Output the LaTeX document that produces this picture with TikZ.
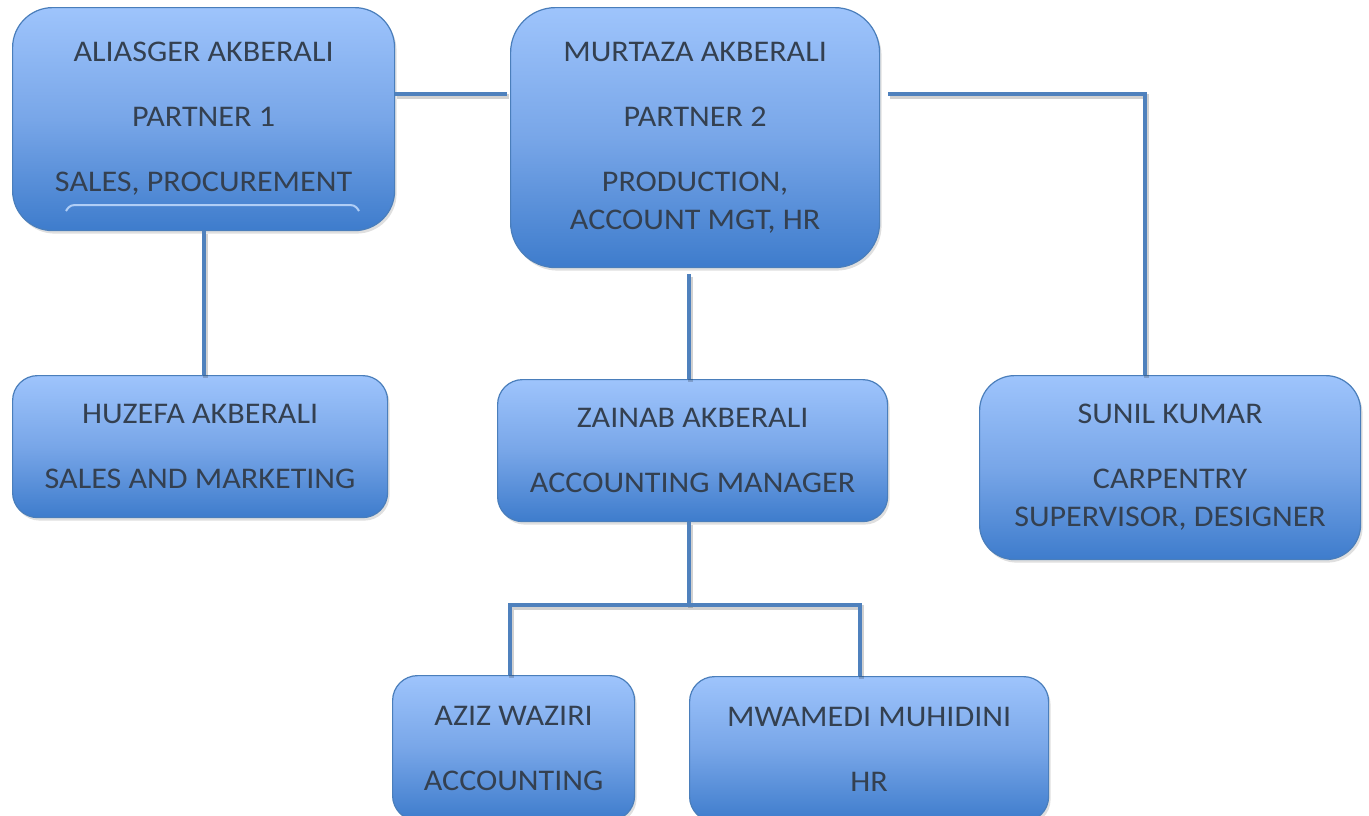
\documentclass[tikz,border=0pt]{standalone}
\usepackage{fontspec}
\setmainfont{Carlito}[FakeStretch=1.07]
\usetikzlibrary{shadows}
\definecolor{topc}{RGB}{158,196,252}
\definecolor{midc}{RGB}{120,166,232}
\definecolor{botc}{RGB}{62,124,204}
\definecolor{edgec}{RGB}{74,126,187}
\definecolor{linec}{RGB}{79,129,189}
\definecolor{txtc}{RGB}{52,64,80}
\definecolor{glowc}{RGB}{176,206,246}
\tikzset{
  orgbox/.style={draw=edgec, line width=1.2pt, top color=topc, bottom color=botc, middle color=midc,
    anchor=north west, inner sep=0pt, align=center, text=txtc,
    font=\fontsize{30}{38}\selectfont,
    drop shadow={opacity=0.25, shadow xshift=2pt, shadow yshift=-3pt}},
  conn/.style={line width=4.5pt, draw=linec,
    preaction={draw=black, opacity=0.18, line width=4.5pt, transform canvas={xshift=1.5pt, yshift=-2.5pt}}}
}
\begin{document}
\begin{tikzpicture}[x=1pt, y=-1pt]
\useasboundingbox (0,0) rectangle (1369,815);
\coordinate (yTop) at (0,94);
\coordinate (xM) at (689,0);
\coordinate (xS) at (1145,0);
\coordinate (xA) at (204,0);
\coordinate (yBar) at (0,605);
\coordinate (xL) at (510,0);
\coordinate (xR) at (860,0);

\node[orgbox, minimum width=382pt, minimum height=223pt, rounded corners=40pt] (A) at (12,7)
  {ALIASGER AKBERALI\\[27pt] PARTNER 1\\[27pt] SALES, PROCUREMENT};
\node[orgbox, minimum width=369pt, minimum height=260pt, rounded corners=45pt] (M) at (510,7)
  {MURTAZA AKBERALI\\[27pt] PARTNER 2\\[27pt] PRODUCTION,\\ ACCOUNT MGT, HR};
\node[orgbox, minimum width=375pt, minimum height=142pt, rounded corners=25pt] (H) at (12,375)
  {HUZEFA AKBERALI\\[27pt] SALES AND MARKETING};
\node[orgbox, minimum width=390pt, minimum height=142pt, rounded corners=25pt] (Z) at (497,379)
  {ZAINAB AKBERALI\\[27pt] ACCOUNTING MANAGER};
\node[orgbox, minimum width=381pt, minimum height=184pt, rounded corners=35pt] (S) at (979,375)
  {SUNIL KUMAR\\[27pt] CARPENTRY\\ SUPERVISOR, DESIGNER};
\node[orgbox, minimum width=242pt, minimum height=145pt, rounded corners=25pt] (W) at (392,675)
  {AZIZ WAZIRI\\[27pt] ACCOUNTING};
\node[orgbox, minimum width=359pt, minimum height=145pt, rounded corners=25pt] (D) at (689,676)
  {MWAMEDI MUHIDINI\\[27pt] HR};

% light band inside box A
\draw[glowc, line width=2pt] (66,211) .. controls (70,205) .. (82,205) -- (343,205) .. controls (355,205) .. (359,211);

% connectors
\draw[conn] (A.east |- yTop) -- ([xshift=-3pt]M.west |- yTop);
\draw[conn] ([xshift=8pt]M.east |- yTop) -- (xS |- yTop) -- (xS |- S.north);
\draw[conn] (xA |- A.south) -- (xA |- H.north);
\draw[conn] ([yshift=-6pt]xM |- M.south) -- (xM |- Z.north);
\draw[conn] (xM |- Z.south) -- (xM |- yBar);
\draw[conn] (xL |- W.north) -- (xL |- yBar) -- (xR |- yBar) -- (xR |- D.north);
\end{tikzpicture}
\end{document}
